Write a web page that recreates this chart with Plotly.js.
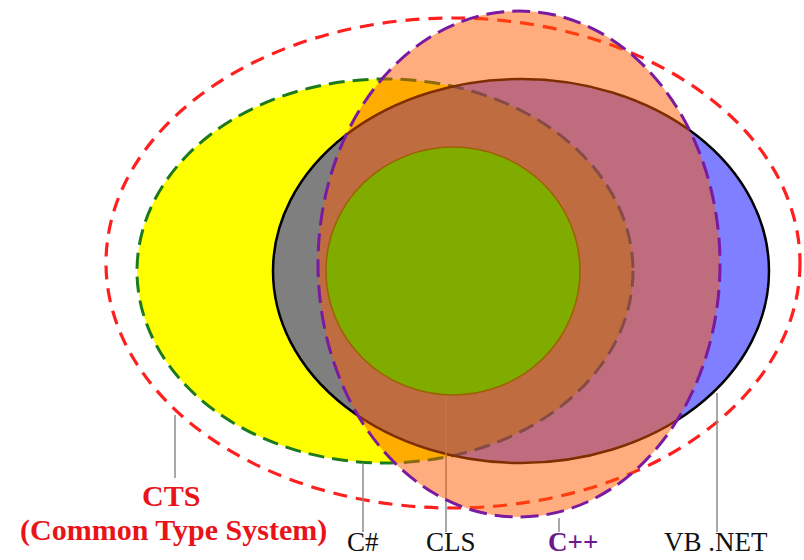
<!DOCTYPE html>
<html>
<head>
<meta charset="utf-8">
<script src="https://cdn.plot.ly/plotly-3.0.1.min.js"></script>
<style>html,body{margin:0;padding:0;background:#fff;}#chart{width:804px;height:560px;}</style>
</head>
<body>
<div id="chart"></div>
<script>
// Sets (drawn in this order)
const setNames = ['CTS', 'C#', 'VB .NET', 'CLS', 'C++'];
const centerX  = [453, 385, 521, 453, 519];
const centerY  = [263, 271, 271, 271, 264];
const radiusX  = [347, 248, 248, 127, 201];
const radiusY  = [245, 192, 192, 124, 253];

// Labels and leader lines
const labelNames  = ['CTS', '(Common Type System)', 'C#', 'CLS', 'C++', 'VB .NET'];
const labelX      = [171, 173, 363, 451, 573, 716];
const labelY      = [495, 530, 542, 542, 542, 542];
const labelSize   = [30, 30, 27, 27, 27, 27];
const leaderX      = [175, 363, 446, 559, 717];
const leaderTop    = [415, 463, 396, 518, 393];
const leaderBottom = [478, 532, 532, 532, 532];

const fills = ['rgba(0,0,0,0)', '#ffff00', 'rgba(0,0,255,0.5)', '#00ff00', 'rgba(255,90,0,0.5)'];
const lineCols = ['#ff1f1f', '#1c7a1c', '#000000', '#3a6a00', '#7a1aa0'];
const lineW = [3.2, 3, 2.5, 1.5, 3];
const dashes = ['14px,9px', '16px,8px', 'solid', 'solid', '18px,8px'];

const shapes = [];
function ellipseShape(i) {
  return {
    type: 'circle', xref: 'x', yref: 'y', layer: 'above',
    x0: centerX[i] - radiusX[i], x1: centerX[i] + radiusX[i],
    y0: centerY[i] - radiusY[i], y1: centerY[i] + radiusY[i],
    fillcolor: fills[i],
    line: {color: lineCols[i], width: lineW[i], dash: dashes[i]}
  };
}
for (let i = 0; i < 4; i++) shapes.push(ellipseShape(i));
for (let j = 0; j < leaderX.length; j++) {
  shapes.push({
    type: 'line', xref: 'x', yref: 'y', layer: 'above',
    x0: leaderX[j], x1: leaderX[j], y0: leaderTop[j], y1: leaderBottom[j],
    line: {color: '#8c8c8c', width: 1.5}
  });
}
shapes.push(ellipseShape(4));

const labelColors = ['#e8141a', '#e8141a', '#111111', '#111111', '#6a1a8a', '#111111'];
const labelBold = [true, true, false, false, true, false];
const annotations = labelNames.map((t, k) => ({
  x: labelX[k], y: labelY[k], xref: 'x', yref: 'y',
  text: labelBold[k] ? '<b>' + t + '</b>' : t,
  showarrow: false, xanchor: 'center', yanchor: 'middle',
  font: {family: '"Liberation Serif", "Times New Roman", serif', size: labelSize[k], color: labelColors[k]}
}));

const layout = {
  width: 804, height: 560,
  margin: {l: 0, r: 0, t: 0, b: 0},
  paper_bgcolor: '#ffffff', plot_bgcolor: '#ffffff',
  xaxis: {range: [0, 804], visible: false, fixedrange: true},
  yaxis: {range: [560, 0], visible: false, fixedrange: true},
  showlegend: false,
  shapes: shapes,
  annotations: annotations
};

Plotly.newPlot('chart', [{x: [], y: [], type: 'scatter', mode: 'markers', hoverinfo: 'skip'}], layout, {staticPlot: true, displayModeBar: false});
</script>
</body>
</html>
